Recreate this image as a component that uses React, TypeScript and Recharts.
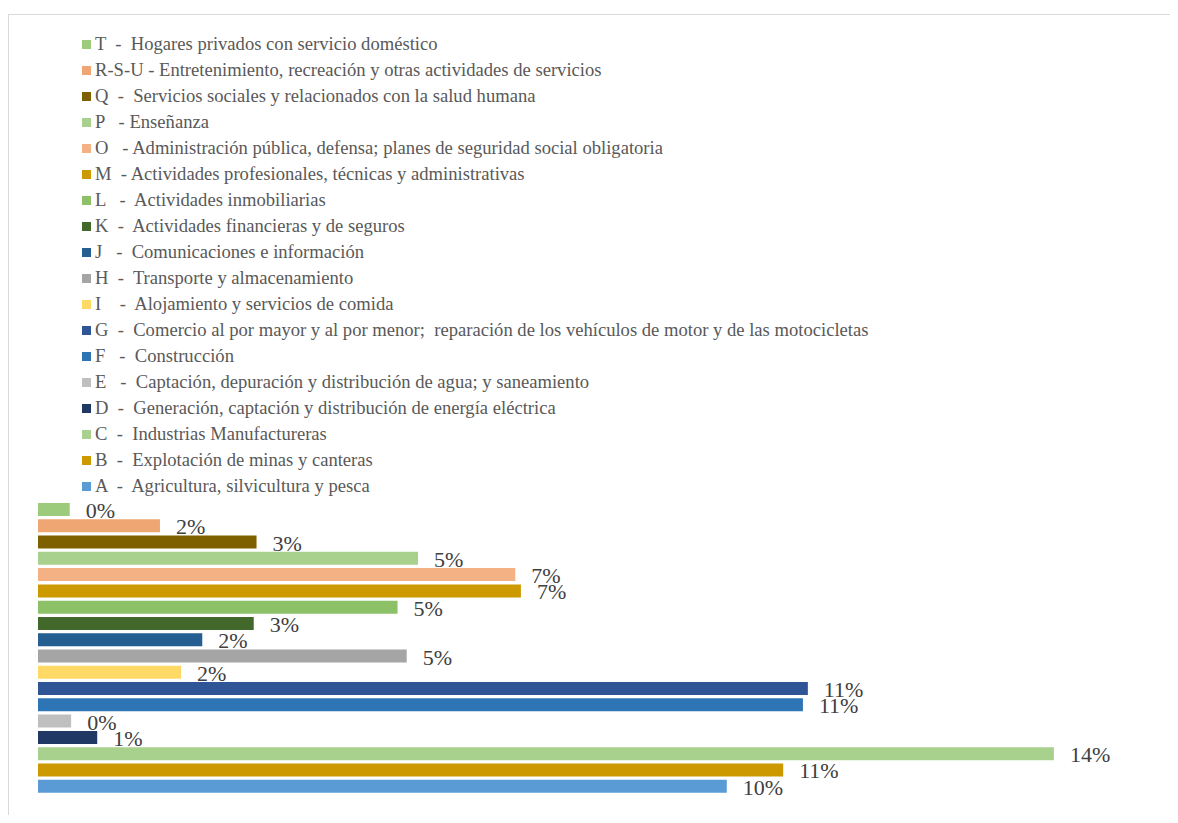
import { Bar, BarChart, Cell, LabelList, XAxis, YAxis } from "recharts"

// sectors from A (bottom) to T (top)
const codes = ["A", "B", "C", "D", "E", "F", "G", "I", "H", "J", "K", "L", "M", "O", "P", "Q", "R-S-U", "T"]

const legendLabels = [
  "A  -  Agricultura, silvicultura y pesca",
  "B  -  Explotación de minas y canteras",
  "C  -  Industrias Manufactureras",
  "D  -  Generación, captación y distribución de energía eléctrica",
  "E   -  Captación, depuración y distribución de agua; y saneamiento",
  "F   -  Construcción",
  "G  -  Comercio al por mayor y al por menor;  reparación de los vehículos de motor y de las motocicletas",
  "I    -  Alojamiento y servicios de comida",
  "H  -  Transporte y almacenamiento",
  "J   -  Comunicaciones e información",
  "K  -  Actividades financieras y de seguros",
  "L   -  Actividades inmobiliarias",
  "M  - Actividades profesionales, técnicas y administrativas",
  "O   - Administración pública, defensa; planes de seguridad social obligatoria",
  "P   - Enseñanza",
  "Q  -  Servicios sociales y relacionados con la salud humana",
  "R-S-U - Entretenimiento, recreación y otras actividades de servicios",
  "T  -  Hogares privados con servicio doméstico",
]

// share of each sector, in percent
const shares = [9.77, 10.57, 14.41, 0.84, 0.47, 10.85, 10.92, 2.03, 5.23, 2.33, 3.06, 5.1, 6.85, 6.77, 5.39, 3.1, 1.73, 0.45]

const colors = [
  "#5B9BD5", "#CC9900", "#A9D18E", "#203864", "#BFBFBF", "#2E75B6", "#2F5597", "#FFD966", "#A5A5A5",
  "#255E91", "#43682B", "#8CC168", "#CC9900", "#F4B183", "#A9D18E", "#7F6000", "#F0A672", "#9BCB7B",
]

const data = codes.map((code, i) => ({ code, share: shares[i] }))

const serif = '"Liberation Serif", "Times New Roman", serif'

function PctLabel(props: any) {
  const { x, y, width, height, value } = props
  return (
    <text
      x={x + width + 16}
      y={y + height + 2}
      fill="#404040"
      fontSize={22}
      fontFamily={serif}
    >
      {`${Math.round(value)}%`}
    </text>
  )
}

export default function App() {
  const legendRows = codes.map((c, i) => i).reverse()
  return (
    <div
      style={{
        position: "relative",
        marginTop: 6,
        width: 1169,
        height: 800,
        borderTop: "1px solid #D9D9D9",
        borderLeft: "1px solid #D9D9D9",
        background: "#fff",
      }}
    >
      <div style={{ position: "absolute", left: 73, top: 16, fontFamily: serif, fontSize: 18.6, color: "#595959" }}>
        {legendRows.map((i) => (
          <div key={codes[i]} style={{ height: 26, display: "flex", alignItems: "center", whiteSpace: "pre" }}>
            <span style={{ width: 9, height: 9, background: colors[i], marginRight: 4, display: "inline-block" }} />
            <span>{legendLabels[i]}</span>
          </div>
        ))}
      </div>
      <div style={{ position: "absolute", left: 0, top: 0 }}>
        <BarChart
          width={1169}
          height={785}
          data={data}
          layout="vertical"
          margin={{ top: 486, right: 12, bottom: 6, left: 29 }}
        >
          <XAxis type="number" domain={[0, 16]} hide />
          <YAxis type="category" dataKey="code" reversed hide />
          <Bar dataKey="share" barSize={13} isAnimationActive={false}>
            {data.map((d, i) => (
              <Cell key={d.code} fill={colors[i]} />
            ))}
            <LabelList dataKey="share" content={PctLabel} />
          </Bar>
        </BarChart>
      </div>
    </div>
  )
}
